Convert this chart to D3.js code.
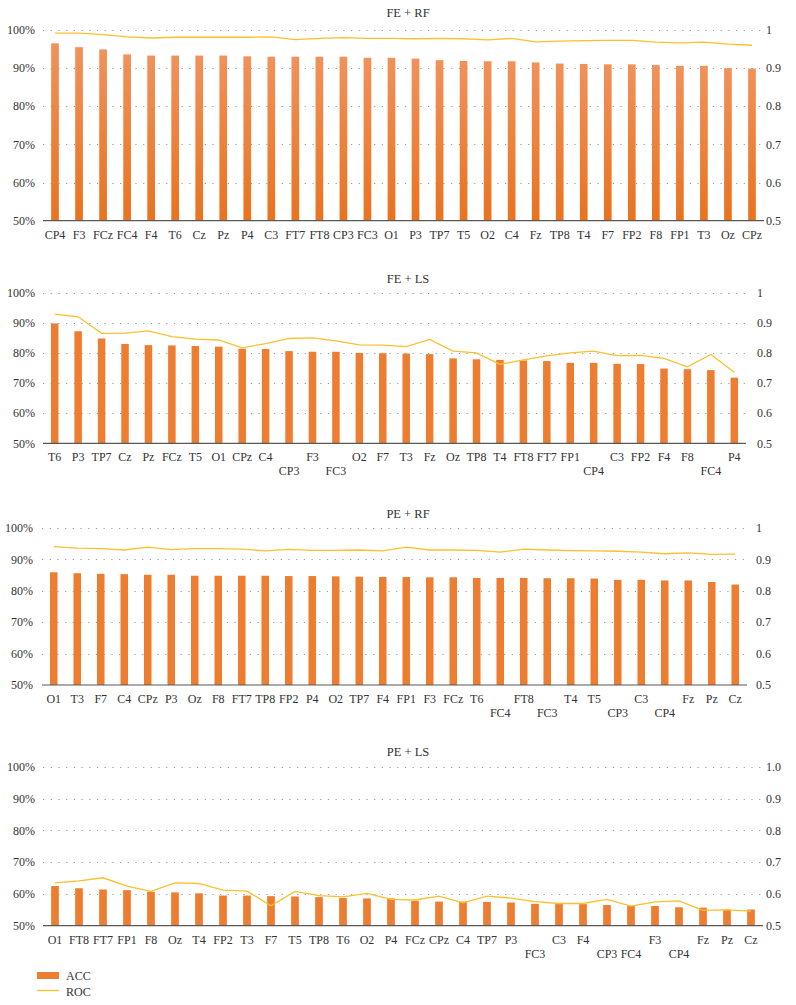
<!DOCTYPE html>
<html>
<head>
<meta charset="utf-8">
<script src="https://cdnjs.cloudflare.com/ajax/libs/d3/7.8.5/d3.min.js"></script>
<style>
  body { margin: 0; background: #fff; }
  svg text { font-family: "Liberation Serif", "DejaVu Serif", serif; fill: #333; }
</style>
</head>
<body>
<div id="chart-area"></div>
<script>
// ---- data ----
var titles = ["FE + RF", "FE + LS", "PE + RF", "PE + LS"];

var feRfChannels = ["CP4", "F3", "FCz", "FC4", "F4", "T6", "Cz", "Pz", "P4", "C3", "FT7", "FT8", "CP3", "FC3", "O1",
    "P3", "TP7", "T5", "O2", "C4", "Fz", "TP8", "T4", "F7", "FP2", "F8", "FP1", "T3", "Oz", "CPz"];
var feRfAcc = [96.5, 95.5, 94.9, 93.6, 93.3, 93.3, 93.3, 93.3, 93.1, 93.0, 93.0, 93.0, 93.0, 92.7, 92.7,
    92.5, 92.1, 91.9, 91.8, 91.8, 91.5, 91.2, 91.1, 91.0, 91.0, 90.8, 90.6, 90.6, 90.0, 89.9];
var feRfRoc = [0.992, 0.992, 0.988, 0.982, 0.979, 0.981, 0.981, 0.981, 0.981, 0.982, 0.975, 0.978, 0.980, 0.978, 0.978,
    0.977, 0.978, 0.977, 0.974, 0.978, 0.969, 0.971, 0.972, 0.973, 0.973, 0.968, 0.966, 0.968, 0.963, 0.960];

var feLsChannels = ["T6", "P3", "TP7", "Cz", "Pz", "FCz", "T5", "O1", "CPz", "C4", "CP3", "F3", "FC3", "O2", "F7",
    "T3", "Fz", "Oz", "TP8", "T4", "FT8", "FT7", "FP1", "CP4", "C3", "FP2", "F4", "F8", "FC4", "P4"];
var feLsAcc = [89.8, 87.2, 84.8, 83.0, 82.6, 82.5, 82.3, 82.1, 81.4, 81.3, 80.6, 80.4, 80.4, 80.0, 79.9,
    79.8, 79.6, 78.2, 77.9, 77.7, 77.5, 77.3, 76.7, 76.7, 76.4, 76.3, 74.8, 74.6, 74.3, 71.8];
var feLsRoc = [0.929, 0.920, 0.865, 0.866, 0.873, 0.854, 0.846, 0.843, 0.817, 0.831, 0.848, 0.850, 0.840, 0.827, 0.826,
    0.821, 0.845, 0.806, 0.800, 0.762, 0.777, 0.790, 0.800, 0.806, 0.791, 0.792, 0.782, 0.754, 0.795, 0.736];

var peRfChannels = ["O1", "T3", "F7", "C4", "CPz", "P3", "Oz", "F8", "FT7", "TP8", "FP2", "P4", "O2", "TP7", "F4",
    "FP1", "F3", "FCz", "T6", "FC4", "FT8", "FC3", "T4", "T5", "CP3", "C3", "CP4", "Fz", "Pz", "Cz"];
var peRfAcc = [85.9, 85.6, 85.4, 85.3, 85.1, 85.1, 84.8, 84.8, 84.8, 84.8, 84.7, 84.7, 84.6, 84.5, 84.4,
    84.4, 84.3, 84.3, 84.1, 84.1, 84.1, 84.0, 84.0, 83.9, 83.5, 83.5, 83.3, 83.3, 82.8, 82.0];
var peRfRoc = [0.941, 0.936, 0.934, 0.930, 0.939, 0.931, 0.934, 0.934, 0.933, 0.927, 0.932, 0.929, 0.929, 0.930, 0.927,
    0.939, 0.930, 0.930, 0.929, 0.923, 0.933, 0.930, 0.928, 0.927, 0.926, 0.923, 0.918, 0.921, 0.916, 0.917];

var peLsChannels = ["O1", "FT8", "FT7", "FP1", "F8", "Oz", "T4", "FP2", "T3", "F7", "T5", "TP8", "T6", "O2", "P4",
    "FCz", "CPz", "C4", "TP7", "P3", "FC3", "C3", "F4", "CP3", "FC4", "F3", "CP4", "Fz", "Pz", "Cz"];
var peLsAcc = [62.5, 61.8, 61.4, 61.2, 60.7, 60.5, 60.2, 59.5, 59.5, 59.3, 59.2, 59.0, 58.7, 58.6, 58.6,
    57.8, 57.6, 57.6, 57.5, 57.3, 56.9, 56.9, 56.8, 56.5, 56.2, 56.2, 55.8, 55.7, 55.1, 55.1];
var peLsRoc = [0.635, 0.641, 0.651, 0.625, 0.608, 0.635, 0.633, 0.612, 0.609, 0.563, 0.608, 0.595, 0.591, 0.602, 0.583,
    0.581, 0.593, 0.572, 0.593, 0.587, 0.576, 0.570, 0.570, 0.583, 0.562, 0.575, 0.578, 0.548, 0.550, 0.546];

var leftTicks = [0.5, 0.6, 0.7, 0.8, 0.9, 1.0];
var seriesNames = ["ACC", "ROC"];

// ---- layout ----
var width = 796, height = 1005;
var barColor = "#ED7D31", lineColor = "#FBC02D";
var fontFam = "'Liberation Serif', 'DejaVu Serif', serif";

var panels = [
    { title: titles[0], cats: feRfChannels, acc: feRfAcc, roc: feRfRoc, top: 30, bottom: 220.7, left: 43, right: 764, rx: 766, lx: 35, ty: 17, gradient: true, stagger: false, rFmt: "1" },
    { title: titles[1], cats: feLsChannels, acc: feLsAcc, roc: feLsRoc, top: 292.7, bottom: 443.3, left: 43, right: 746, rx: 757, lx: 35, ty: 283, gradient: false, stagger: true, rFmt: "1" },
    { title: titles[2], cats: peRfChannels, acc: peRfAcc, roc: peRfRoc, top: 528, bottom: 685, left: 42, right: 747, rx: 756, lx: 33, ty: 518, gradient: false, stagger: true, rFmt: "1" },
    { title: titles[3], cats: peLsChannels, acc: peLsAcc, roc: peLsRoc, top: 767, bottom: 925.7, left: 43, right: 763, rx: 766, lx: 35, ty: 756, gradient: false, stagger: true, rFmt: "1.0" }
];

var svg = d3.select("#chart-area").append("svg")
    .attr("width", width)
    .attr("height", height)
    .attr("font-family", fontFam);

var defs = svg.append("defs");
var grad = defs.append("linearGradient")
    .attr("id", "barGrad")
    .attr("x1", 0).attr("y1", 0).attr("x2", 0).attr("y2", 1);
grad.append("stop").attr("offset", "0%").attr("stop-color", "#F0925A");
grad.append("stop").attr("offset", "100%").attr("stop-color", "#E8731F");

panels.forEach(function(p) {
    var g = svg.append("g");

    var xScale = d3.scaleBand()
        .domain(p.cats)
        .range([p.left, p.right])
        .paddingInner(0.68)
        .paddingOuter(0.34);

    var yScale = d3.scaleLinear()
        .domain([0.5, 1.0])
        .range([p.bottom, p.top]);

    // title
    g.append("text")
        .attr("x", 408)
        .attr("y", p.ty)
        .attr("text-anchor", "middle")
        .style("font-family", fontFam)
        .style("font-size", "12.5px")
        .text(p.title);

    // dotted gridlines
    g.selectAll("line.grid")
        .data(leftTicks.slice(1))
        .enter().append("line")
        .attr("class", "grid")
        .attr("x1", p.left)
        .attr("x2", p.right)
        .attr("y1", function(d) { return Math.round(yScale(d)) + 0.5; })
        .attr("y2", function(d) { return Math.round(yScale(d)) + 0.5; })
        .style("stroke", "#9a9a9a")
        .style("stroke-width", 1)
        .style("stroke-dasharray", "1.2,6.5");

    // left axis labels
    g.selectAll("text.left")
        .data(leftTicks)
        .enter().append("text")
        .attr("class", "left")
        .attr("x", p.lx)
        .attr("y", function(d) { return yScale(d); })
        .attr("dy", "0.35em")
        .attr("text-anchor", "end")
        .style("font-family", fontFam)
        .style("font-size", "12px")
        .text(function(d) { return d3.format(".0%")(d); });

    // right axis labels
    g.selectAll("text.right")
        .data(leftTicks)
        .enter().append("text")
        .attr("class", "right")
        .attr("x", p.rx)
        .attr("y", function(d) { return yScale(d); })
        .attr("dy", "0.35em")
        .style("font-family", fontFam)
        .style("font-size", "12px")
        .text(function(d) {
            if (p.rFmt === "1.0") return d3.format(".1f")(d);
            return d === 1 ? "1" : d3.format(".1f")(d);
        });

    // bars
    g.selectAll("rect.bar")
        .data(p.cats)
        .enter().append("rect")
        .attr("class", "bar")
        .attr("x", function(d) { return xScale(d); })
        .attr("width", xScale.bandwidth())
        .attr("y", function(d, i) { return yScale(p.acc[i] / 100); })
        .attr("height", function(d, i) { return p.bottom - yScale(p.acc[i] / 100); })
        .style("fill", p.gradient ? "url(#barGrad)" : barColor);

    // baseline
    g.append("line")
        .attr("x1", p.left)
        .attr("x2", p.right)
        .attr("y1", p.bottom)
        .attr("y2", p.bottom)
        .style("stroke", "#595959")
        .style("stroke-width", 1.2);

    // ROC line
    var line = d3.line()
        .x(function(d, i) { return xScale(p.cats[i]) + xScale.bandwidth() / 2; })
        .y(function(d) { return yScale(d); });

    g.append("path")
        .datum(p.roc)
        .attr("d", line)
        .style("fill", "none")
        .style("stroke", lineColor)
        .style("stroke-width", 1.3);

    // category labels
    g.selectAll("text.cat")
        .data(p.cats)
        .enter().append("text")
        .attr("class", "cat")
        .attr("x", function(d) { return xScale(d) + xScale.bandwidth() / 2; })
        .attr("y", function(d) {
            var low = p.stagger && /^(FC|CP)[0-9]/.test(d);
            return p.bottom + (low ? 32 : 18);
        })
        .attr("text-anchor", "middle")
        .style("font-family", fontFam)
        .style("font-size", "12px")
        .text(function(d) { return d; });
});

// legend
var legend = svg.append("g");
legend.append("rect")
    .attr("x", 37)
    .attr("y", 972)
    .attr("width", 22)
    .attr("height", 7)
    .style("fill", barColor);
legend.append("line")
    .attr("x1", 37)
    .attr("x2", 59)
    .attr("y1", 990.5)
    .attr("y2", 990.5)
    .style("stroke", lineColor)
    .style("stroke-width", 1.3);
legend.selectAll("text.leg")
    .data(seriesNames)
    .enter().append("text")
    .attr("class", "leg")
    .attr("x", 66)
    .attr("y", function(d, i) { return 975.5 + i * 16.5; })
    .attr("dy", "0.35em")
    .style("font-family", fontFam)
    .style("font-size", "12px")
    .text(function(d) { return d; });
</script>
</body>
</html>
